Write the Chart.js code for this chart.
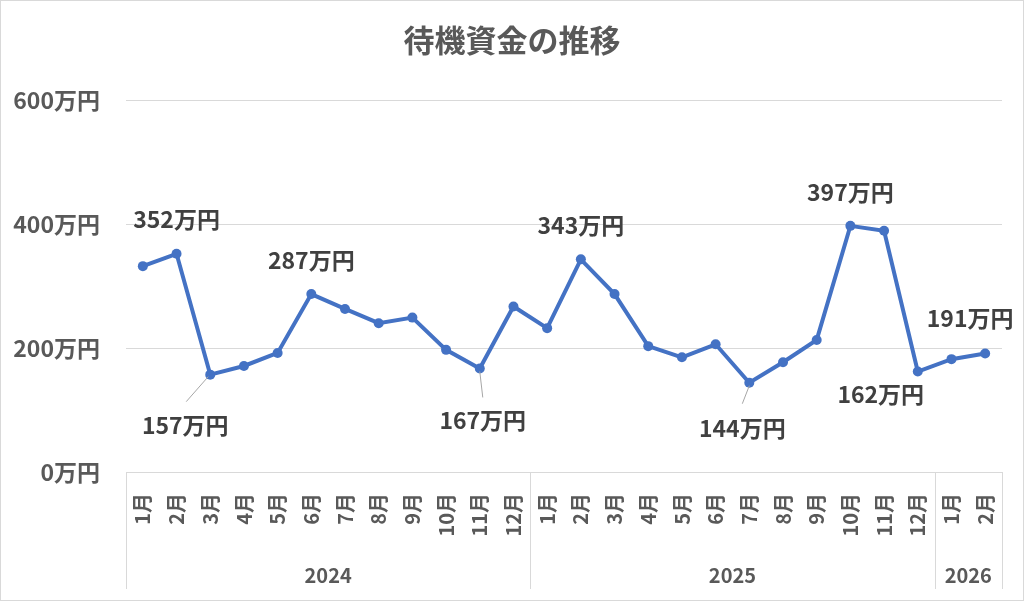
<!DOCTYPE html>
<html>
<head>
<meta charset="utf-8">
<script src="https://cdn.jsdelivr.net/npm/chart.js@4.4.1/dist/chart.umd.min.js"></script>
<style>
  html, body { margin: 0; padding: 0; background: #fff; }
  #wrap { width: 1024px; height: 601px; }
</style>
</head>
<body>
<div id="wrap"><canvas id="chart" width="1024" height="601"></canvas></div>
<script>
// 月ラベル
var months = ['1月','2月','3月','4月','5月','6月','7月','8月','9月','10月','11月','12月',
              '1月','2月','3月','4月','5月','6月','7月','8月','9月','10月','11月','12月',
              '1月','2月'];
// 年グループ
var years = ['2024', '2025', '2026'];
var yearCounts = [12, 12, 2];
// 待機資金（万円）
var funds = [332, 352, 157, 171, 192, 287, 263, 240, 249, 197, 167, 267,
             232, 343, 287, 203, 185, 206, 144, 177, 213, 397, 389, 162,
             182, 191];
var yTicks = [0, 200, 400, 600];

// ラベルを出す点（index）
var labelled = [1, 2, 5, 10, 13, 18, 21, 23, 25];
// ラベルの位置（点からのずれ）と引き出し線
var labelPos = {
  1:  {dx: 0,   dy: -34},
  2:  {dx: -25, dy: 51, lead: [-24, 27, -2, 2]},
  5:  {dx: 0,   dy: -34},
  10: {dx: 3,   dy: 52, lead: [3, 29, 0, 3]},
  13: {dx: 0,   dy: -34},
  18: {dx: -7,  dy: 46, lead: [-7, 21, 0, 3]},
  21: {dx: 0,   dy: -34},
  23: {dx: -37, dy: 23},
  25: {dx: -15, dy: -35}
};

var FONT = '"Noto Sans CJK JP", "Noto Sans", sans-serif';
var GRID = '#d9d9d9';
var TEXT = '#595959';

var deco = {
  id: 'deco',
  afterDraw: function(chart) {
    var ctx = chart.ctx;
    var xs = chart.scales.x;
    var area = chart.chartArea;
    var meta = chart.getDatasetMeta(0);
    ctx.save();

    // title
    ctx.fillStyle = TEXT;
    ctx.font = 'bold 31px ' + FONT;
    ctx.textAlign = 'center';
    ctx.textBaseline = 'middle';
    ctx.fillText('待機資金の推移', 512, 40);

    // year groups
    var step = xs.getPixelForValue(1) - xs.getPixelForValue(0);
    ctx.strokeStyle = GRID;
    ctx.lineWidth = 1;
    var start = 0;
    for (var g = 0; g <= years.length; g++) {
      var bx = Math.round(xs.getPixelForValue(start) - step / 2) + 0.5;
      ctx.beginPath();
      ctx.moveTo(bx, area.bottom);
      ctx.lineTo(bx, 589);
      ctx.stroke();
      if (g < years.length) {
        var cx = (xs.getPixelForValue(start) + xs.getPixelForValue(start + yearCounts[g] - 1)) / 2;
        ctx.fillStyle = TEXT;
        ctx.font = 'bold 20px ' + FONT;
        ctx.fillText(years[g], cx, 575);
        start += yearCounts[g];
      }
    }

    // data labels
    ctx.font = 'bold 23px ' + FONT;
    labelled.forEach(function(i) {
      var pt = meta.data[i];
      var p = labelPos[i];
      if (p.lead) {
        ctx.strokeStyle = '#a6a6a6';
        ctx.beginPath();
        ctx.moveTo(pt.x + p.lead[0], pt.y + p.lead[1]);
        ctx.lineTo(pt.x + p.lead[2], pt.y + p.lead[3]);
        ctx.stroke();
      }
      ctx.fillStyle = '#404040';
      ctx.fillText(funds[i] + '万円', pt.x + p.dx, pt.y + p.dy);
    });

    // outer border
    ctx.strokeStyle = GRID;
    ctx.strokeRect(0.5, 0.5, chart.width - 1, chart.height - 1);
    ctx.restore();
  }
};

new Chart(document.getElementById('chart'), {
  type: 'line',
  data: {
    labels: months,
    datasets: [{
      data: funds,
      borderColor: '#4472C4',
      backgroundColor: '#4472C4',
      borderWidth: 4,
      pointRadius: 5,
      pointBackgroundColor: '#4472C4',
      pointBorderWidth: 0,
      tension: 0
    }]
  },
  options: {
    responsive: false,
    animation: false,
    devicePixelRatio: 1,
    layout: { padding: { top: 100, right: 22, left: 0, bottom: 0 } },
    plugins: { legend: { display: false }, tooltip: { enabled: false } },
    scales: {
      x: {
        offset: true,
        grid: { display: false, drawTicks: false, offset: true },
        border: { display: false },
        ticks: {
          autoSkip: false, maxRotation: 90, minRotation: 90, padding: 21,
          color: TEXT, font: { family: FONT, size: 20, weight: 'bold' }
        },
        afterFit: function(s) { s.height = 129; s.paddingLeft = 0; s.paddingRight = 0; }
      },
      y: {
        min: yTicks[0], max: yTicks[yTicks.length - 1],
        afterBuildTicks: function(s) { s.ticks = yTicks.map(function(v) { return {value: v}; }); },
        grid: { color: GRID, drawTicks: false },
        border: { display: false },
        ticks: {
          padding: 26, color: TEXT,
          font: { family: FONT, size: 23, weight: 'bold' },
          callback: function(v) { return v + '万円'; }
        },
        afterFit: function(s) { s.width = 126; s.paddingTop = 0; s.paddingBottom = 0; }
      }
    }
  },
  plugins: [deco]
});
</script>
</body>
</html>
